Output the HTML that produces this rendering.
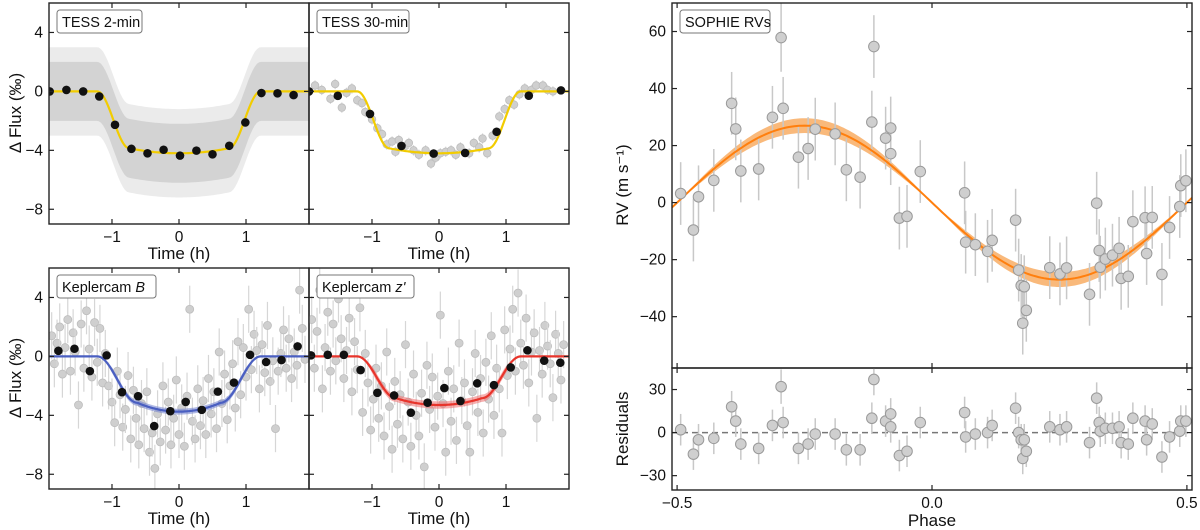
<!DOCTYPE html>
<html><head><meta charset="utf-8">
<style>
html,body{margin:0;padding:0;background:#fff;}
svg{display:block;font-family:"Liberation Sans","DejaVu Sans",sans-serif;}
</style></head>
<body>
<svg id="fig" width="1200" height="530" viewBox="0 0 1200 530" xmlns="http://www.w3.org/2000/svg"></svg>
<script>
// ---------- DATA ----------
const tess2Bin_t = [-1.93,-1.68,-1.43,-1.19,-0.955,-0.71,-0.47,-0.23,0.015,0.26,0.50,0.75,0.99,1.23,1.47,1.71];
const tess2Bin_f = [0,0.1,0,-0.34,-2.27,-3.9,-4.2,-3.96,-4.36,-4.02,-4.27,-3.69,-2.11,-0.11,-0.13,-0.25];
const tess30Bin_t = [-1.94,-1.51,-1.03,-0.56,-0.08,0.39,0.86,1.34,1.82];
const tess30Bin_f = [0,-0.3,-1.53,-3.7,-4.22,-4.18,-2.74,-0.29,0.07];
const tess30_t = [-1.85,-1.75,-1.62,-1.55,-1.45,-1.38,-1.3,-1.22,-1.15,-1.1,-1.0,-0.92,-0.85,-0.78,-0.7,-0.65,-0.6,-0.5,-0.45,-0.38,-0.3,-0.2,-0.12,-0.05,0.02,0.1,0.18,0.25,0.32,0.45,0.52,0.6,0.65,0.72,0.8,0.9,0.98,1.05,1.12,1.2,1.28,1.38,1.45,1.55,1.62,1.7];
const tess30_f = [0.4,0.1,-0.5,0.5,-1.1,-0.1,0.2,-0.6,-0.8,-1.4,-1.9,-2.5,-2.9,-3.6,-3.4,-4.1,-3.3,-3.7,-3.5,-4.0,-4.3,-4.0,-4.9,-4.5,-4.2,-4.1,-4.0,-4.3,-3.8,-4.2,-3.5,-3.8,-3.2,-4.2,-3.0,-1.7,-1.2,-0.6,-0.9,-0.2,0.2,0.1,0.4,0.4,0.1,0.0];
const kepB_bin_t = [-1.80,-1.56,-1.33,-1.08,-0.85,-0.61,-0.37,-0.13,0.10,0.34,0.58,0.82,1.06,1.30,1.53,1.77];
const kepB_bin_f = [0.38,0.52,-1.0,0.07,-2.43,-2.7,-4.73,-3.72,-3.09,-3.63,-2.39,-1.78,0.11,-0.38,-0.25,0.68];
const kepB_t = [-1.9,-1.86,-1.82,-1.78,-1.74,-1.7,-1.66,-1.62,-1.58,-1.55,-1.5,-1.46,-1.42,-1.38,-1.34,-1.3,-1.26,-1.22,-1.18,-1.14,-1.1,-1.05,-1.0,-0.96,-0.92,-0.88,-0.84,-0.8,-0.76,-0.72,-0.68,-0.64,-0.6,-0.56,-0.52,-0.48,-0.44,-0.4,-0.36,-0.32,-0.28,-0.24,-0.2,-0.16,-0.12,-0.08,-0.04,0.0,0.04,0.08,0.12,0.16,0.2,0.24,0.28,0.32,0.36,0.4,0.44,0.48,0.52,0.56,0.6,0.64,0.68,0.72,0.76,0.8,0.84,0.88,0.92,0.96,1.0,1.04,1.08,1.12,1.16,1.2,1.24,1.28,1.32,1.36,1.4,1.44,1.48,1.52,1.56,1.6,1.64,1.68,1.72,1.76,1.8,1.84,1.88];
const kepB_f = [1.4,-0.5,0.9,2.0,-1.2,0.6,2.5,-1.0,1.6,0.3,-3.3,2.2,-0.8,3.1,0.5,-1.4,2.3,-0.4,1.9,-1.8,0.2,-2.0,-3.1,-4.5,-1.0,-2.6,-4.8,-3.6,-1.3,-5.6,-2.3,-4.2,-6.0,-3.2,-4.9,-2.4,-6.5,-5.2,-7.6,-3.9,-5.8,-2.0,-5.0,-3.1,-6.0,-4.2,-1.6,-5.3,-3.5,-6.1,-2.7,3.2,-4.4,-5.6,-2.2,-4.7,-3.0,-5.3,-1.5,-3.9,-2.4,-4.9,0.3,-3.2,-1.2,-4.3,-2.0,-0.5,-3.5,1.0,-2.6,0.6,-1.4,3.2,-0.9,1.5,0.4,-2.2,0.8,-1.1,2.1,-1.7,-0.3,-4.9,-1.0,0.2,1.8,-0.8,1.2,-1.5,0.3,-0.6,4.5,1.9,-0.2];
const kepZ_bin_t = [-1.91,-1.66,-1.42,-1.17,-0.92,-0.67,-0.42,-0.17,0.08,0.32,0.57,0.82,1.07,1.32,1.57,1.81];
const kepZ_bin_f = [0.07,0.11,0.11,-0.93,-2.47,-2.65,-3.82,-3.14,-2.15,-3.03,-1.83,-1.95,-0.75,0.41,-0.29,-0.43];
const kepZ_t = [-1.9,-1.86,-1.82,-1.78,-1.74,-1.7,-1.66,-1.62,-1.58,-1.54,-1.5,-1.46,-1.42,-1.38,-1.34,-1.3,-1.26,-1.22,-1.18,-1.14,-1.1,-1.06,-1.02,-0.98,-0.94,-0.9,-0.86,-0.82,-0.78,-0.74,-0.7,-0.66,-0.62,-0.58,-0.54,-0.5,-0.46,-0.42,-0.38,-0.34,-0.3,-0.26,-0.22,-0.18,-0.14,-0.1,-0.06,-0.02,0.02,0.06,0.1,0.14,0.18,0.22,0.26,0.3,0.34,0.38,0.42,0.46,0.5,0.54,0.58,0.62,0.66,0.7,0.74,0.78,0.82,0.86,0.9,0.94,0.98,1.02,1.06,1.1,1.14,1.18,1.22,1.26,1.3,1.34,1.38,1.42,1.46,1.5,1.54,1.58,1.62,1.66,1.7,1.74,1.78,1.82,1.86];
const kepZ_f = [2.5,-0.8,1.7,4.5,-2.2,0.6,3.0,-1.0,2.2,-0.3,3.9,1.2,-1.5,0.4,2.6,-2.4,1.0,-0.9,3.3,-3.8,0.2,-1.8,-5.0,-2.9,-0.8,-4.2,-2.0,-5.4,0.3,-3.4,-6.3,-1.7,-4.6,-2.6,-5.6,0.8,-3.1,-6.1,-1.2,-4.0,-5.4,-2.5,-7.5,-0.6,-3.6,-1.4,-4.8,-2.7,2.8,-3.2,-6.5,-1.0,-4.4,-2.2,-5.7,0.9,-3.0,-1.8,-4.7,-6.5,-2.4,0.2,-3.8,-1.5,-5.2,-0.4,-2.9,1.4,-4.0,-0.8,-2.2,-5.2,1.8,-1.3,0.5,3.2,-1.0,4.3,0.9,-0.6,2.6,-1.8,0.3,1.6,-4.2,0.4,-1.2,2.1,0.7,-0.5,-2.8,1.5,0.2,-1.6,0.8];
const rvPhase = [-0.493,-0.468,-0.458,-0.428,-0.393,-0.385,-0.375,-0.340,-0.313,-0.296,-0.292,-0.262,-0.243,-0.229,-0.190,-0.168,-0.141,-0.118,-0.114,-0.091,-0.081,-0.081,-0.064,-0.049,-0.023,0.064,0.066,0.085,0.109,0.118,0.164,0.170,0.175,0.181,0.178,0.185,0.231,0.251,0.264,0.309,0.323,0.328,0.330,0.340,0.354,0.367,0.371,0.385,0.394,0.418,0.421,0.432,0.451,0.466,0.486,0.488,0.498];
const rvResid = [2,-15,-5,-4,18,8,-8,-11,5,32,7,-11,-8,-1,-1,-12,-12,10,37,8,13,4,-16,-13,7,14,-3,-1,0,5,17,0,-5,-5,-18,-13,4,2,4,-7,24,7,1,3,3,4,-7,-8,10,8,-5,6,-17,-3,1,8,8];
const rvErr = [11,11,11,11,11,11,11,11,11,12,11,11,11,11,11,11,11,11,11,11,11,11,11,11,11,11,11,11,11,11,11,11,11,11,11,11,11,11,11,11,11,11,11,11,11,11,11,11,11,11,11,11,11,11,11,11,11];
const rvK = 27;
const timeTicks = [-1,0,1];
const fluxTicks = [4,0,-4,-8];
const rvTicks = [60,40,20,0,-20,-40];
const resTicks = [30,0,-30];
const phaseTicks = [-0.5,0.0,0.5];
const phaseTickLabels = ["\u22120.5","0.0","0.5"];

// ---------- HELPERS ----------
const NS="http://www.w3.org/2000/svg";
const svg=document.getElementById('fig');
function mk(tag,attrs,parent){const e=document.createElementNS(NS,tag);for(const k in attrs)e.setAttribute(k,attrs[k]);(parent||svg).appendChild(e);return e;}
function lin(d0,d1,r0,r1){return v=>r0+(v-d0)*(r1-r0)/(d1-d0);}
function fmt(v){return v<0?"\u2212"+Math.abs(v):String(v);}
function transit(t,depth,h14,h23,ld){
  const a=Math.abs(t);if(a>=h14)return 0;
  const edge=depth*(1-ld);
  if(a<=h23)return -depth*(1-ld*(a/h23)*(a/h23));
  const u=(h14-a)/(h14-h23);return -edge*(0.5-0.5*Math.cos(Math.PI*u));
}
function rvModel(p){return -rvK*Math.sin(2*Math.PI*p);}

function panel(name,x0,x1,y0,y1,xl,yl){
  const g=mk('g',{});
  
  
  return {g,x:lin(xl[0],xl[1],x0,x1),y:lin(yl[0],yl[1],y1,y0),x0,x1,y0,y1};
}
function frame(P,xt,yt,showY,xlabels){
  const g=P.g;
  xt.forEach(v=>{const X=P.x(v);
    mk('line',{x1:X,x2:X,y1:P.y1,y2:P.y1-5,stroke:'#222','stroke-width':1.2},g);
    mk('line',{x1:X,x2:X,y1:P.y0,y2:P.y0+5,stroke:'#222','stroke-width':1.2},g);
    if(xlabels){const t=mk('text',{x:X,y:P.y1+18,'text-anchor':'middle','font-size':15.5,fill:'#111'},g);t.textContent=xlabels(v);}
  });
  yt.forEach(v=>{const Y=P.y(v);
    mk('line',{x1:P.x0,x2:P.x0+5,y1:Y,y2:Y,stroke:'#222','stroke-width':1.2},g);
    mk('line',{x1:P.x1,x2:P.x1-5,y1:Y,y2:Y,stroke:'#222','stroke-width':1.2},g);
    if(showY){const t=mk('text',{x:P.x0-6,y:Y+5,'text-anchor':'end','font-size':15.5,fill:'#111'},g);t.textContent=fmt(v);}
  });
  mk('rect',{x:P.x0,y:P.y0,width:P.x1-P.x0,height:P.y1-P.y0,fill:'none',stroke:'#222','stroke-width':1.4},g);
}
function clipFor(P,id){
  const cp=mk('clipPath',{id:id});mk('rect',{x:P.x0,y:P.y0,width:P.x1-P.x0,height:P.y1-P.y0},cp);
  return mk('g',{'clip-path':'url(#'+id+')'},P.g);
}
function legendBox(P,label,w,italicPart){
  const bx=P.x0+8,by=P.y0+7;
  const g=mk('g',{},P.g);
  
  
  mk('rect',{x:bx,y:by,width:w,height:23,rx:3,fill:'#fff',stroke:'#777','stroke-width':1},g);
  const t=mk('text',{x:bx+5,y:by+17,'font-size':14.5,fill:'#111'},g);
  t.textContent=label;
  if(italicPart){const s=mk('tspan',{'font-style':'italic'},t);s.textContent=italicPart;}
}
function modelPath(P,fn,band,color,bandColor,h){
  let top='',bot='',mid='';
  for(let i=0;i<=200;i++){const t=-1.94+3.88*i/200;const m=fn(t);
    mid+=(i?'L':'M')+P.x(t).toFixed(1)+','+P.y(m).toFixed(1);
    top+=(i?'L':'M')+P.x(t).toFixed(1)+','+P.y(m+band*Math.min(1,Math.abs(m)/1)).toFixed(1);}
  for(let i=200;i>=0;i--){const t=-1.94+3.88*i/200;const m=fn(t);
    bot+='L'+P.x(t).toFixed(1)+','+P.y(m-band*Math.min(1,Math.abs(m)/1)).toFixed(1);}
  if(band>0){const b=mk('path',{d:top+bot+'Z',fill:bandColor,opacity:0.55},h);
    
    }
  const l=mk('path',{d:mid,fill:'none',stroke:color,'stroke-width':2.2},h);
  
  
}
function grayPts(P,ts,fs,err,h,r){
  ts.forEach((t,i)=>{const X=P.x(t),Y=P.y(fs[i]);
    mk('line',{x1:X,x2:X,y1:P.y(fs[i]+err),y2:P.y(fs[i]-err),stroke:'#d6d6d6','stroke-width':1.2},h);
    const c=mk('circle',{cx:X,cy:Y,r:r,fill:'#cfcfcf',stroke:'#bdbdbd','stroke-width':0.8},h);
    
    
  });
}
function binPts(P,ts,fs,h){
  ts.forEach((t,i)=>{const c=mk('circle',{cx:P.x(t),cy:P.y(fs[i]),r:4.3,fill:'#111'},h);
    
    });
}
const tl=v=>fmt(v);

// ---------- LIGHT CURVE PANELS ----------
const TL=[-1.94,1.94],FL=[-9,6];
const modT=t=>transit(t,4.2,1.22,0.74,0.08);
const modB=t=>transit(t,3.75,1.22,0.62,0.16);
const modZ=t=>transit(t,3.3,1.22,0.64,0.14);

function bandPath(P,fn,w){
  let up='',dn='';
  for(let i=0;i<=120;i++){const t=-1.94+3.88*i/120;up+=(i?'L':'M')+P.x(t).toFixed(1)+','+P.y(fn(t)+w).toFixed(1);}
  for(let i=120;i>=0;i--){const t=-1.94+3.88*i/120;dn+='L'+P.x(t).toFixed(1)+','+P.y(fn(t)-w).toFixed(1);}
  return up+dn+'Z';
}

// TESS 2-min
const A=panel('tess-2min-panel',49,309,3,224,TL,FL);
{const h=clipFor(A,'cA');
 const c1=mk('path',{d:bandPath(A,modT,3.0),fill:'#ebebeb'},h);
 
 
 const c2=mk('path',{d:bandPath(A,modT,2.0),fill:'#d3d3d3'},h);
 
 
 modelPath(A,modT,0,'#f2cc00','#f2cc00',h);
 binPts(A,tess2Bin_t,tess2Bin_f,h);}
frame(A,timeTicks,fluxTicks,true,tl);
legendBox(A,'TESS 2-min',85);

// TESS 30-min
const B=panel('tess-30min-panel',309,569,3,224,TL,FL);
{const h=clipFor(B,'cB');
 grayPts(B,tess30_t,tess30_f,0.35,h,3.8);
 modelPath(B,modT,0,'#f2cc00','#f2cc00',h);
 binPts(B,tess30Bin_t,tess30Bin_f,h);}
frame(B,timeTicks,fluxTicks,false,tl);
legendBox(B,'TESS 30-min',92);

// Keplercam B
const C=panel('keplercam-b-panel',49,309,268,489,TL,FL);
{const h=clipFor(C,'cC');
 grayPts(C,kepB_t,kepB_f,1.6,h,4);
 modelPath(C,modB,0.2,'#4a5fc1','#7080d0',h);
 binPts(C,kepB_bin_t,kepB_bin_f,h);}
frame(C,timeTicks,fluxTicks,true,tl);
legendBox(C,'Keplercam ',99,'B');

// Keplercam z'
const D=panel('keplercam-z-panel',309,569,268,489,TL,FL);
{const h=clipFor(D,'cD');
 grayPts(D,kepZ_t,kepZ_f,1.6,h,4);
 modelPath(D,modZ,0.25,'#e8342b','#f07070',h);
 binPts(D,kepZ_bin_t,kepZ_bin_f,h);}
frame(D,timeTicks,fluxTicks,false,tl);
legendBox(D,"Keplercam ",97,"z'");

function txt(name,x,y,s,rot,size){const t=mk('text',{x:x,y:y,'text-anchor':'middle','font-size':size||17,fill:'#111'});
  if(rot)t.setAttribute('transform','rotate(-90 '+x+' '+y+')');t.textContent=s;
  
  return t;}
txt('x-axis-title-tess2',179,259,'Time (h)');
txt('x-axis-title-tess30',439,259,'Time (h)');
txt('x-axis-title-kepb',179,524,'Time (h)');
txt('x-axis-title-kepz',439,524,'Time (h)');
txt('y-axis-title-top',21,113,'\u0394 Flux (\u2030)',true);
txt('y-axis-title-bottom',21,378,'\u0394 Flux (\u2030)',true);

// ---------- RV PANEL ----------
const PL=[-0.51,0.51];
const R=panel('rv-panel',672,1192,3,368,PL,[-58,70]);
{const h=clipFor(R,'cR');
 let top='',bot='',mid='';
 for(let i=0;i<=200;i++){const p=-0.51+1.02*i/200;const m=rvModel(p);
   mid+=(i?'L':'M')+R.x(p).toFixed(1)+','+R.y(m).toFixed(1);
   const w=2.6*Math.abs(Math.sin(2*Math.PI*p));
   top+=(i?'L':'M')+R.x(p).toFixed(1)+','+R.y(m+w).toFixed(1);}
 for(let i=200;i>=0;i--){const p=-0.51+1.02*i/200;const m=rvModel(p);const w=2.6*Math.abs(Math.sin(2*Math.PI*p));
   bot+='L'+R.x(p).toFixed(1)+','+R.y(m-w).toFixed(1);}
 const bd=mk('path',{d:top+bot+'Z',fill:'#f7a14f',opacity:0.75},h);
 
 
 rvPhase.forEach((p,i)=>{const v=rvModel(p)+rvResid[i];const X=R.x(p);
   mk('line',{x1:X,x2:X,y1:R.y(v+rvErr[i]),y2:R.y(v-rvErr[i]),stroke:'#c8c8c8','stroke-width':1.5},h);});
 const ml=mk('path',{d:mid,fill:'none',stroke:'#ff7f0e','stroke-width':2},h);
 
 
 rvPhase.forEach((p,i)=>{const v=rvModel(p)+rvResid[i];
   const c=mk('circle',{cx:R.x(p),cy:R.y(v),r:5.3,fill:'#cfcfcf',stroke:'#9a9a9a','stroke-width':1},h);
   
   });}
frame(R,phaseTicks,rvTicks,true,null);
legendBox(R,'SOPHIE RVs',90);

const S=panel('residuals-panel',672,1192,368,490,PL,[-40,45]);
{const h=clipFor(S,'cS');
 const dl=mk('line',{x1:S.x0,x2:S.x1,y1:S.y(0),y2:S.y(0),stroke:'#777','stroke-width':1.5,'stroke-dasharray':'6 4'},h);
 
 
 rvPhase.forEach((p,i)=>{const X=S.x(p);
   mk('line',{x1:X,x2:X,y1:S.y(rvResid[i]+rvErr[i]),y2:S.y(rvResid[i]-rvErr[i]),stroke:'#c8c8c8','stroke-width':1.5},h);});
 rvPhase.forEach((p,i)=>{const c=mk('circle',{cx:S.x(p),cy:S.y(rvResid[i]),r:5.3,fill:'#cfcfcf',stroke:'#9a9a9a','stroke-width':1},h);
   
   });}
frame(S,phaseTicks,resTicks,true,v=>phaseTickLabels[phaseTicks.indexOf(v)]);
txt('x-axis-title-phase',932,526,'Phase');
txt('y-axis-title-rv',628,185,'RV (m s\u207B\u00B9)',true);
txt('y-axis-title-residuals',628,429,'Residuals',true);
</script>
</body></html>
